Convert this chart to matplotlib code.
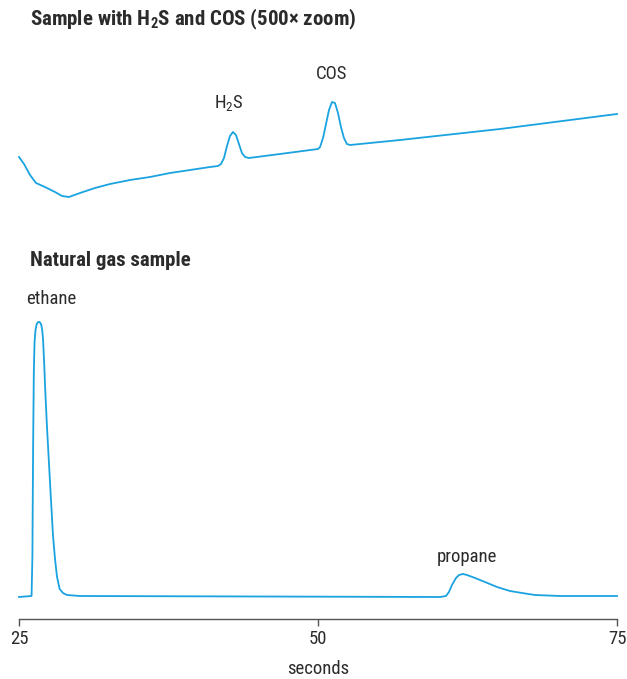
import matplotlib
matplotlib.use("Agg")
import matplotlib.pyplot as plt
from matplotlib import font_manager

# top trace: sample with H2S and COS (500x zoom), seconds / signal (arb.)
top_t = [25.00, 25.42, 25.92, 26.42, 27.17, 28.01, 28.60, 29.18, 30.10, 31.35,
         32.61, 34.28, 35.95, 37.63, 39.30, 40.97, 41.64, 41.89, 42.14, 42.39,
         42.64, 42.89, 43.14, 43.39, 43.64, 43.90, 44.23, 46.82, 50.00, 50.17,
         50.42, 50.67, 50.92, 51.17, 51.42, 51.67, 51.92, 52.17, 52.42, 52.68,
         56.86, 65.22, 75.00]
top_v = [53, 46, 35, 27, 23, 18, 14, 13, 17, 22,
         26, 30, 33, 37, 40, 43, 44, 46, 52, 64,
         74, 78, 75, 66, 57, 53, 52, 56, 61, 63,
         72, 86, 100, 108, 107, 97, 83, 72, 66, 65,
         70, 81, 96]

# bottom trace: natural gas sample
gas_t = [25.00, 26.05, 26.12, 26.18, 26.24, 26.30, 26.38, 26.48, 26.60, 26.72,
         26.84, 26.93, 27.01, 27.10, 27.20, 27.34, 27.50, 27.66, 27.84, 28.01,
         28.18, 28.40, 28.68, 29.01, 30.10, 60.20, 60.70, 60.95, 61.20, 61.54,
         61.79, 62.12, 62.46, 63.13, 63.96, 64.97, 66.05, 67.06, 68.14, 70.23,
         75.00]
gas_v = [0, 1, 40, 150, 225, 255, 267, 273, 275, 275,
         273, 268, 258, 235, 205, 170, 135, 100, 62, 38,
         20, 8, 4, 2, 1, 0, 1, 5, 12, 19,
         22, 23, 22, 19, 15, 10, 6, 4, 2, 1,
         1]

xticks = [25, 50, 75]
blu = "#1aa3e0"
txt = "#2b2b2b"
fs = 13.5   # labels
tfs = 15    # panel titles

names = {f.name for f in font_manager.fontManager.ttflist}
base = "DejaVu Sans"
for cand in ["Roboto Condensed", "Liberation Sans Narrow", "Open Sans Condensed", "Roboto"]:
    if cand in names:
        base = cand
        break
plt.rcParams["font.family"] = [base, "DejaVu Sans"]
plt.rcParams["mathtext.fontset"] = "custom"
plt.rcParams["mathtext.rm"] = base
plt.rcParams["mathtext.bf"] = base + ":bold"

fig = plt.figure(figsize=(6.27, 6.79), dpi=100)

# top panel
ax1 = fig.add_axes([19/627, 1-210/679, 598/627, 120/679])
ax1.plot(top_t, top_v, color=blu, lw=1.3, clip_on=False)
ax1.set_xlim(25, 75)
ax1.set_ylim(0, 120)
ax1.axis("off")
ax1.annotate(r"H$_\mathregular{2}$S", (42.89, 78), xytext=(-3, 13), textcoords="offset points",
             ha="center", va="bottom", fontsize=fs, color=txt)
ax1.annotate("COS", (51.17, 108), xytext=(0, 14), textcoords="offset points",
             ha="center", va="bottom", fontsize=fs, color=txt)

# bottom panel
ax2 = fig.add_axes([19/627, 1-619/679, 598/627, 319/679])
ax2.plot(gas_t, gas_v, color=blu, lw=1.3, clip_on=False)
ax2.set_xlim(25, 75)
ax2.set_ylim(-22, 297)
for s in ["top", "right", "left"]:
    ax2.spines[s].set_visible(False)
ax2.spines["bottom"].set_color("#555555")
ax2.spines["bottom"].set_linewidth(1.0)
ax2.set_yticks([])
ax2.set_xticks(xticks)
ax2.set_xticklabels([str(v) for v in xticks])
ax2.tick_params(axis="x", length=5, width=1, color="#555555", pad=3,
                labelsize=fs, labelcolor=txt)
ax2.annotate("ethane", (26.67, 275), xytext=(9, 10), textcoords="offset points",
             ha="center", va="bottom", fontsize=fs, color=txt)
ax2.annotate("propane", (62.12, 23), xytext=(3, 6), textcoords="offset points",
             ha="center", va="bottom", fontsize=fs, color=txt)

fig.text(318/627, 1-669/679, "seconds", ha="center", va="center", fontsize=fs, color=txt)
fig.text(30/627, 1-19/679, r"Sample with H$_\mathbf{2}$S and COS (500× zoom)",
         ha="left", va="center", fontsize=tfs, fontweight="bold", color=txt)
fig.text(30/627, 1-260/679, "Natural gas sample",
         ha="left", va="center", fontsize=tfs, fontweight="bold", color=txt)

fig.savefig("out.png", dpi=100)
